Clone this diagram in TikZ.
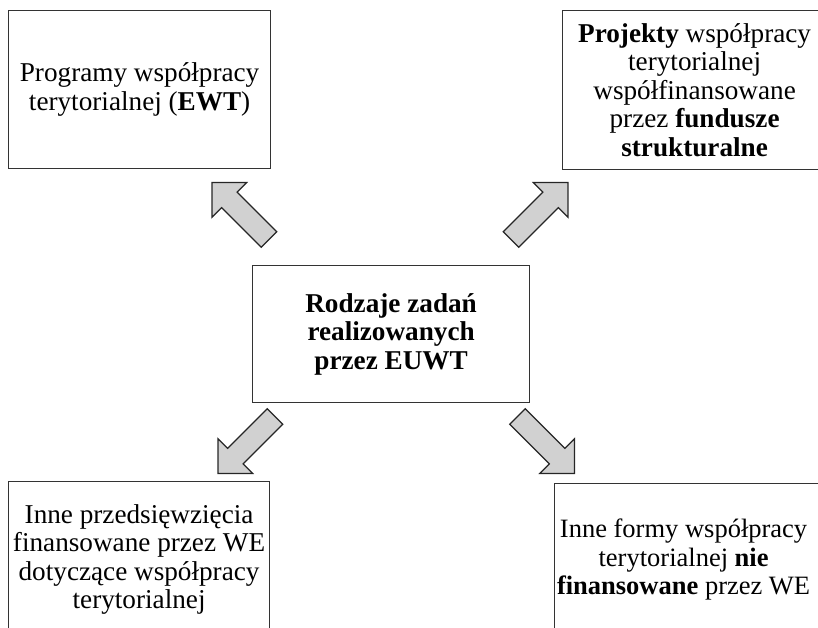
\documentclass[tikz,border=0pt]{standalone}
\usepackage{fontspec}
\setmainfont{Liberation Serif}
\usetikzlibrary{positioning}
\tikzset{every node/.style={ % Text in all boxes
font=\fontsize{27.2}{28.5}\selectfont,
align=center},
box/.style={ % Frame of each box
draw=black!80, line width=1.2pt, inner sep=0pt},
bigarrow/.style={ % Grey block arrows
draw=black!85, line width=1.2pt, fill=black!18, line join=miter}}

\begin{document}
\begin{tikzpicture}[x=1pt, y=1pt]
    \useasboundingbox (0,0) rectangle (818,-627);
    \clip (0,0) rectangle (818,-627);
    \node[box, anchor=north west, minimum width=262pt, minimum height=158pt] (progr) at (8,-10)
        {Programy współpracy\\terytorialnej (\textbf{EWT})};
    \node[box, anchor=north west, minimum width=264pt, minimum height=159pt] (proj) at (562,-10)
        {\textbf{Projekty} współpracy\\terytorialnej\\współfinansowane\\przez \textbf{fundusze}\\\textbf{strukturalne}};
    \node[box, anchor=north west, minimum width=277pt, minimum height=137pt] (zad) at (252,-265)
        {\textbf{Rodzaje zadań}\\\textbf{realizowanych}\\\textbf{przez EUWT}};
    \node[box, anchor=north west, minimum width=261pt, minimum height=156pt] (inne) at (8,-481)
        {Inne przedsięwzięcia\\finansowane przez WE\\dotyczące współpracy\\terytorialnej};
    \node[box, anchor=north west, minimum width=268pt, minimum height=152pt] (formy) at (554,-483) {};
    \node[font=\fontsize{26.5}{28.5}\selectfont] (formytxt) at ([xshift=-5pt]formy.center)
        {Inne formy współpracy\\terytorialnej \textbf{nie}\\\textbf{finansowane} przez WE};
    % block arrows: tail point / direction
    \foreach \tx/\ty/\ang in {269/-239.5/135, 511/-239.5/45, 275/-416.5/225, 517.5/-416.5/315}
        \draw[bigarrow, shift={(\tx,\ty)}, rotate=\ang]
            (0,-11) -- (56,-11) -- (56,-24.5) -- (80.5,0) -- (56,24.5) -- (56,11) -- (0,11) -- cycle;
\end{tikzpicture}
\end{document}
